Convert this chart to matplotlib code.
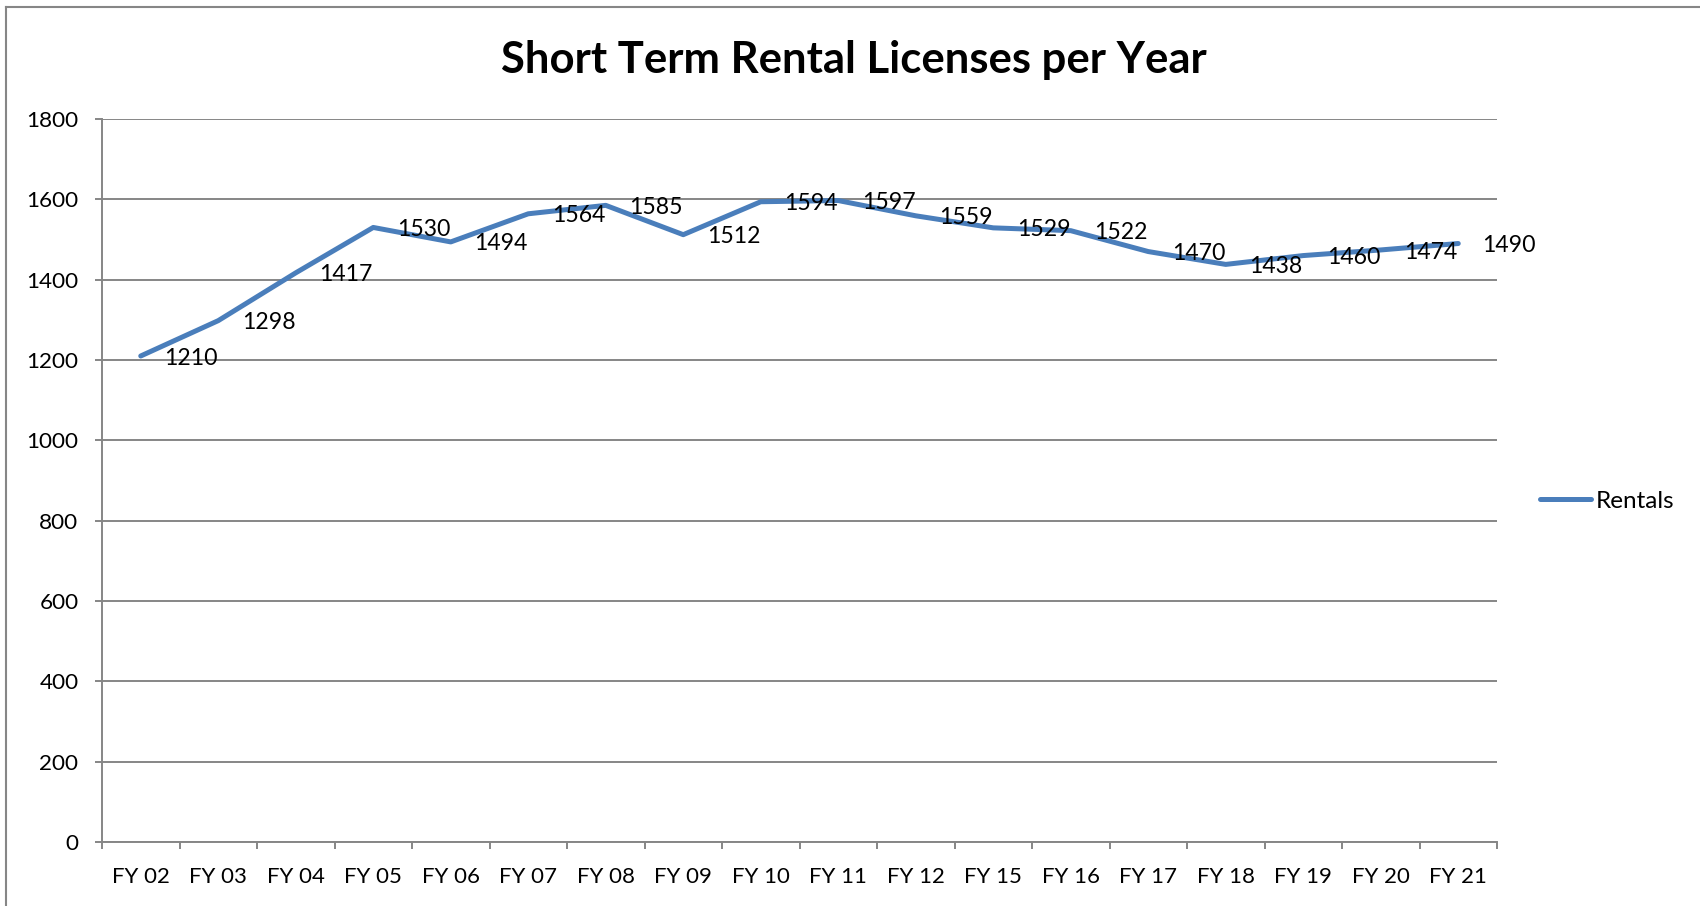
import matplotlib
matplotlib.use("Agg")
import matplotlib.pyplot as plt
from matplotlib.lines import Line2D
import numpy as np

categories = ["FY 02", "FY 03", "FY 04", "FY 05", "FY 06", "FY 07", "FY 08", "FY 09",
              "FY 10", "FY 11", "FY 12", "FY 15", "FY 16", "FY 17", "FY 18", "FY 19",
              "FY 20", "FY 21"]
rentals = [1210, 1298, 1417, 1530, 1494, 1564, 1585, 1512, 1594, 1597, 1559, 1529,
           1522, 1470, 1438, 1460, 1474, 1490]
yticks = [0, 200, 400, 600, 800, 1000, 1200, 1400, 1600, 1800]
title = "Short Term Rental Licenses per Year"
series_name = "Rentals"

plt.rcParams['font.family'] = ['Lato', 'DejaVu Sans']

W, H = 1700, 906
fig = plt.figure(figsize=(W / 100, H / 100), dpi=100)
ax = fig.add_axes([102 / W, 1 - 842 / H, (1497 - 102) / W, (842 - 119) / H])

grid_c = "#868686"
line_c = "#4A7EBB"

x = np.arange(len(categories))
ax.plot(x, rentals, color=line_c, lw=3.6, solid_capstyle='round', solid_joinstyle='round',
        label=series_name, zorder=3)
for xi, v in zip(x, rentals):
    ax.annotate(str(v), (xi, v), xytext=(17, -1.5), textcoords='offset points',
                ha='left', va='center', fontsize=16.6, color='black', zorder=4)

ax.set_xlim(-0.5, len(categories) - 0.5)
ax.set_ylim(0, 1800)
ax.set_yticks(yticks)
ax.set_yticklabels([str(t) for t in yticks], fontsize=16.2)
ax.set_xticks(x)
ax.set_xticklabels(categories, fontsize=16)
ax.set_xticks(np.arange(-0.5, len(categories), 1.0), minor=True)
ax.tick_params(axis='x', which='major', length=0, pad=18)
ax.tick_params(axis='x', which='minor', length=5, width=1.4, color=grid_c, direction='out')
ax.tick_params(axis='y', which='major', length=5, width=1.4, color=grid_c, pad=12)
ax.yaxis.grid(True, color=grid_c, lw=1.4)
ax.set_axisbelow(True)
for s in ['top', 'right']:
    ax.spines[s].set_visible(False)
for s in ['left', 'bottom']:
    ax.spines[s].set_color(grid_c)
    ax.spines[s].set_linewidth(1.4)

fig.text(854 / W, 1 - 60 / H, title, ha='center', va='center', fontsize=31.4, fontweight='bold')

fig.legend(loc='center left', bbox_to_anchor=(1540 / W, 1 - 501 / H), frameon=False,
           fontsize=17.5, handlelength=2.1, handletextpad=0.2, borderpad=0, borderaxespad=0)

fig.add_artist(Line2D([6 / W, 6 / W], [0, 1 - 7 / H], color=grid_c, lw=1.5, transform=fig.transFigure))
fig.add_artist(Line2D([6 / W, 1], [1 - 7 / H, 1 - 7 / H], color=grid_c, lw=1.5, transform=fig.transFigure))

fig.savefig("out.png", dpi=100)
